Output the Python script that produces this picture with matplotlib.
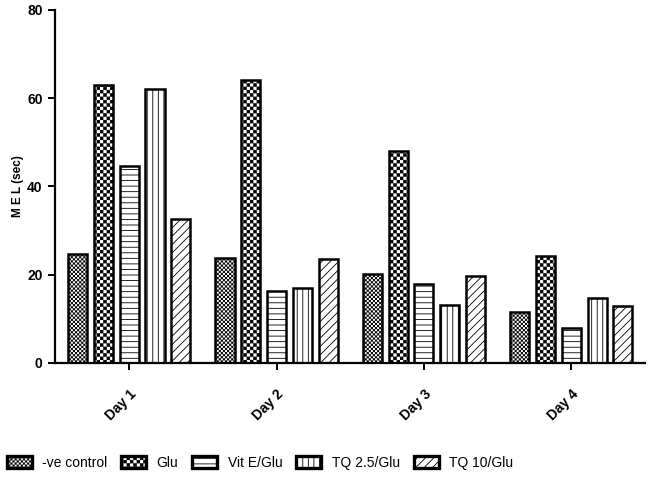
import numpy as np
import matplotlib
matplotlib.use("Agg")
import matplotlib.pyplot as plt
import matplotlib.hatch as mhatch
from matplotlib.path import Path

# ---------------- data ----------------
days = ["Day 1", "Day 2", "Day 3", "Day 4"]
groups = ["-ve control", "Glu", "Vit E/Glu", "TQ 2.5/Glu", "TQ 10/Glu"]
neg_control = [24.7, 23.8, 20.2, 11.6]
glu = [63.0, 64.2, 48.0, 24.3]
vit_e_glu = [44.7, 16.3, 18.0, 8.0]
tq25_glu = [62.0, 17.0, 13.2, 14.8]
tq10_glu = [32.7, 23.6, 19.7, 13.0]
yticks = [0, 20, 40, 60, 80]


# ---------------- custom checkerboard hatch ('*' count sets density) ----------------
class Checker(mhatch.HatchPatternBase):
    filled = True

    def __init__(self, hatch, density):
        n = int(hatch.count('*') * density)
        n = n + (n % 2)
        self.n = n
        self.frac = 0.62 if hatch.count('*') > 6 else 0.78
        if n == 0:
            self.num_vertices = 0
            self.cells = []
        else:
            self.cells = [(i, j) for i in range(n) for j in range(n) if (i + j) % 2 == 0]
            self.num_vertices = len(self.cells) * 5

    def set_vertices_and_codes(self, vertices, codes):
        c = 1.0 / self.n
        s = c * self.frac
        off = (c - s) / 2
        sq = np.array([[0, 0], [s, 0], [s, s], [0, s], [0, 0]])
        sc = [Path.MOVETO, Path.LINETO, Path.LINETO, Path.LINETO, Path.CLOSEPOLY]
        vs, cs = [], []
        for i, j in self.cells:
            vs.append(sq + [i * c + off, j * c + off])
            cs.extend(sc)
        vertices[:] = np.concatenate(vs)
        codes[:] = cs


mhatch._hatch_types = [t for t in mhatch._hatch_types if t is not mhatch.Stars] + [Checker]

plt.rcParams['hatch.linewidth'] = 0.6
plt.rcParams['font.family'] = ['Liberation Sans', 'DejaVu Sans']

series = [neg_control, glu, vit_e_glu, tq25_glu, tq10_glu]
hatches = ['********', '*****', '---', '|||', '////']

fig = plt.figure(figsize=(6.49, 4.80), dpi=100)
ax = fig.add_axes([55 / 649, 1 - 363 / 480, (645 - 55) / 649, (363 - 10) / 480])

x = np.arange(len(days))
pitch = 0.175
width = 0.13
for i, (vals, h, lab) in enumerate(zip(series, hatches, groups)):
    ax.bar(x + (i - 2) * pitch, vals, width, facecolor='white', edgecolor='black',
           linewidth=1.8, hatch=h, label=lab, zorder=2)

ax.set_xlim(-0.503, 3.5)
ax.set_ylim(0, 80)
ax.set_yticks(yticks)
ax.set_yticklabels([str(v) for v in yticks], fontsize=10, fontweight='bold')
ax.set_xticks(x)
ax.set_xticklabels(days, rotation=45, ha='right', rotation_mode='anchor',
                   fontsize=10, fontweight='bold')
for s in ['top', 'right']:
    ax.spines[s].set_visible(False)
for s in ['left', 'bottom']:
    ax.spines[s].set_linewidth(1.6)
ax.tick_params(axis='y', length=5, width=1.4, pad=4)
ax.tick_params(axis='x', length=5, width=1.4, pad=12)
ax.set_ylabel("M E L (sec)", fontsize=8.5, fontweight='bold', labelpad=2)

leg = fig.legend(loc='lower left', bbox_to_anchor=(-0.009, -0.005), ncol=5, frameon=False,
                 fontsize=10, handlelength=1.8, handleheight=1.0, handletextpad=0.75,
                 columnspacing=1.0)
for p in leg.get_patches():
    p.set_linewidth(2.4)

fig.savefig("out.png", dpi=100)
